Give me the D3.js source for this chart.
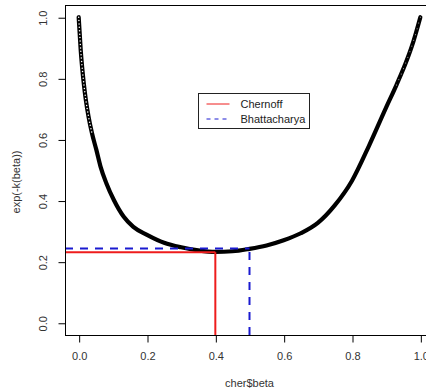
<!DOCTYPE html>
<html>
<head>
<meta charset="utf-8">
<script src="https://cdn.jsdelivr.net/npm/d3@7"></script>
<style>
  body { margin: 0; background: #fff; }
  svg { display: block; font-family: "Liberation Sans", Arial, sans-serif; }
</style>
</head>
<body>
<div id="chart"></div>
<script>
// values
const beta = [0, 0.003, 0.006, 0.010, 0.015, 0.021, 0.029, 0.039, 0.052, 0.064, 0.081, 0.103, 0.132, 0.16,
  0.2, 0.25, 0.3, 0.35, 0.4, 0.45, 0.5, 0.55, 0.6, 0.65, 0.7, 0.75, 0.8, 0.85, 0.9, 0.93, 0.96, 0.98, 1.0];
const expk = [1.0, 0.947, 0.892, 0.838, 0.783, 0.729, 0.674, 0.620, 0.565, 0.511, 0.457, 0.402, 0.347, 0.314,
  0.288, 0.262, 0.247, 0.237, 0.232, 0.234, 0.242, 0.253, 0.270, 0.293, 0.327, 0.385, 0.465, 0.58, 0.705, 0.778, 0.858, 0.922, 1.0];

const boundNames = ['Chernoff', 'Bhattacharya'];
const boundBeta = [0.4, 0.5];
const boundValue = [0.231, 0.243];

const xTicks = [0, 0.2, 0.4, 0.6, 0.8, 1.0];
const yTicks = [0, 0.2, 0.4, 0.6, 0.8, 1.0];

const W = 426, H = 392;
const box = {left: 65, top: 5, right: 434, bottom: 335};

const svg = d3.select('#chart').append('svg').attr('width', W).attr('height', H);

const x = d3.scaleLinear().domain([-0.04, 1.04]).range([box.left, box.right]);
const y = d3.scaleLinear().domain([-0.04, 1.04]).range([box.bottom, box.top]);

const boundColor = ['#ee1c1c', '#1a1ad0'];
const boundDash = [null, '8,7'];

const pts = beta.map((b, i) => ({b: b, v: expk[i]}));

// curve: dense band of points
const line = d3.line().x(d => x(d.b)).y(d => y(d.v)).curve(d3.curveMonotoneX);

const plot = svg.append('g');

plot.append('path')
  .datum(pts)
  .attr('d', line)
  .attr('fill', 'none')
  .attr('stroke', '#000')
  .attr('stroke-width', 4.2)
  .attr('stroke-linejoin', 'round')
  .attr('stroke-linecap', 'round');

// open-circle look at the sparse ends
const sparseLeft = pts.filter(d => d.b < 0.5 && d.v > 0.58);
const sparseRight = pts.filter(d => d.b > 0.5 && d.v > 0.76);
[sparseLeft, sparseRight].forEach((seg, k) => {
  plot.append('path')
    .datum(seg)
    .attr('d', line)
    .attr('fill', 'none')
    .attr('stroke', '#fff')
    .attr('stroke-width', k === 0 ? 1.5 : 0.8)
    .attr('stroke-linecap', 'round')
    .attr('stroke-dasharray', k === 0 ? '0,3.4' : '0,6');
});

// bound guide lines
boundNames.forEach((name, i) => {
  const g = plot.append('g')
    .attr('fill', 'none')
    .attr('stroke', boundColor[i])
    .attr('stroke-width', 2)
    .attr('stroke-dasharray', boundDash[i]);
  g.append('line')
    .attr('x1', x(-0.04)).attr('x2', x(boundBeta[i]))
    .attr('y1', y(boundValue[i])).attr('y2', y(boundValue[i]));
  g.append('line')
    .attr('x1', x(boundBeta[i])).attr('x2', x(boundBeta[i]))
    .attr('y1', y(-0.04)).attr('y2', y(boundValue[i]));
});

// box
svg.append('rect')
  .attr('x', box.left + 0.5).attr('y', box.top + 0.5)
  .attr('width', box.right - box.left).attr('height', box.bottom - box.top)
  .attr('fill', 'none').attr('stroke', '#000').attr('stroke-width', 1);

// axes
const xAxis = svg.append('g')
  .attr('transform', `translate(0.5,${box.bottom + 0.5})`)
  .call(d3.axisBottom(x).tickValues(xTicks).tickFormat(d3.format('.1f')).tickSize(7).tickPadding(10));
xAxis.select('.domain').remove();
xAxis.selectAll('text').attr('font-size', 11).attr('fill', '#333').attr('font-family', null);
xAxis.selectAll('line').attr('stroke', '#000');

const yAxis = svg.append('g')
  .attr('transform', `translate(${box.left + 0.5},0.5)`)
  .call(d3.axisLeft(y).tickValues(yTicks).tickFormat(d3.format('.1f')).tickSize(7));
yAxis.select('.domain').remove();
yAxis.selectAll('line').attr('stroke', '#000');
yAxis.selectAll('text')
  .attr('x', 0).attr('y', -19).attr('dy', null)
  .attr('transform', 'rotate(-90)')
  .attr('text-anchor', 'middle')
  .attr('font-size', 11).attr('fill', '#333').attr('font-family', null);

// titles
svg.append('text')
  .attr('x', (box.left + box.right) / 2).attr('y', 387)
  .attr('text-anchor', 'middle').attr('font-size', 11).attr('fill', '#333')
  .text('cher$beta');

svg.append('text')
  .attr('transform', 'translate(20,182) rotate(-90)')
  .attr('text-anchor', 'middle').attr('font-size', 11).attr('fill', '#333')
  .text('exp(-k(beta))');

// legend
const legend = svg.append('g').attr('transform', 'translate(198.5,93.5)');
legend.append('rect')
  .attr('width', 111).attr('height', 35)
  .attr('fill', '#fff').attr('stroke', '#222').attr('stroke-width', 1);
boundNames.forEach((name, i) => {
  const yy = 10.5 + i * 15;
  legend.append('line')
    .attr('x1', 8).attr('x2', 31).attr('y1', yy).attr('y2', yy)
    .attr('stroke', boundColor[i]).attr('stroke-width', 1)
    .attr('stroke-dasharray', i === 1 ? '4,4' : null);
  legend.append('text')
    .attr('x', 42).attr('y', yy + 4)
    .attr('font-size', 11).attr('fill', '#222')
    .text(name);
});
</script>
</body>
</html>
